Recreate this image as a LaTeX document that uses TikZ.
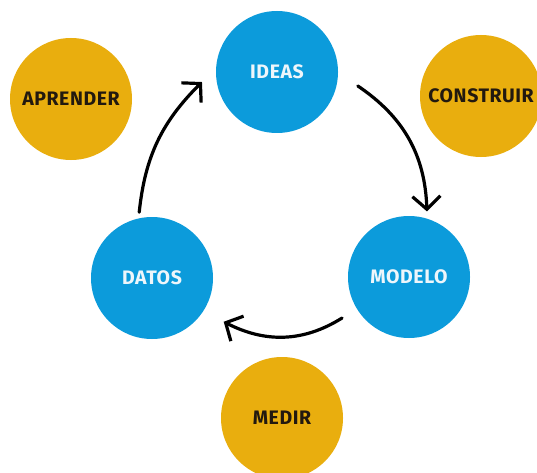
\documentclass[tikz,border=0pt]{standalone}
\usepackage{fontspec}
\setmainfont{Fira Sans}[LetterSpace=3]
\usetikzlibrary{arrows.meta,calc}
\definecolor{cblue}{HTML}{0C9BDB}
\definecolor{cgold}{HTML}{E9AE0E}
\definecolor{cdark}{HTML}{22190F}
\definecolor{clight}{HTML}{EEF6FB}
\tikzset{
  bluecirc/.style={circle, fill=cblue, minimum size=122pt, inner sep=0pt,
    text=clight, font=\fontsize{19.5}{21}\selectfont\bfseries},
  goldcirc/.style={circle, fill=cgold, minimum size=122pt, inner sep=0pt,
    text=cdark, font=\fontsize{19.5}{21}\selectfont\bfseries},
  cyc/.style={line width=3.2pt, draw=black, line cap=round,
    -{Straight Barb[length=13pt,width=28pt,line width=3.2pt]}}
}
\begin{document}
\begin{tikzpicture}[x=1pt,y=1pt]
\useasboundingbox[fill=white] (0,0) rectangle (537,472);
\node[goldcirc] (aprender) at (71,373) {APRENDER};
\node[goldcirc] (construir) at (481,376) {CONSTRUIR};
\node[goldcirc] (medir) at (282,54) {MEDIR};
\node[bluecirc] (ideas) at (277,400) {IDEAS};
\node[bluecirc] (datos) at (152,194) {DATOS};
\node[bluecirc] (modelo) at (409,195) {MODELO};
\draw[cyc] ($(datos)+(101:67)$) to[out=84,in=225] ($(ideas)+(187.6:75.7)$);
\draw[cyc] ($(ideas)+(-9.8:82)$) to[out=-34,in=92] ($(modelo)+(74.7:68)$);
\draw[cyc] ($(modelo)+(211.5:78.5)$) to[out=212,in=333] ($(datos)+(-31.4:84)$);
\end{tikzpicture}
\end{document}
